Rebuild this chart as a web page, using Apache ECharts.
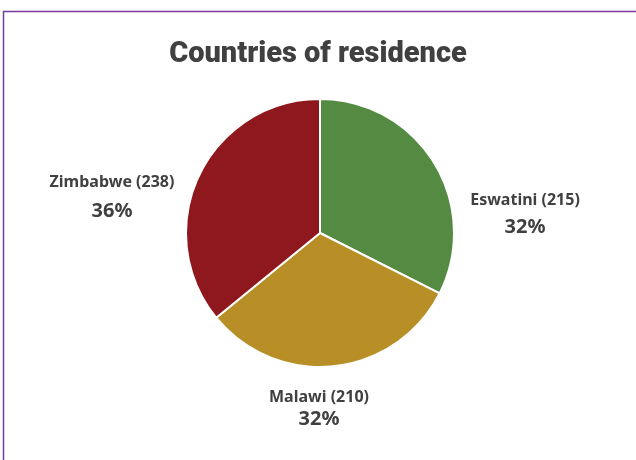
<!DOCTYPE html>
<html>
<head>
<meta charset="utf-8">
<style>
  html, body { margin: 0; padding: 0; background: #ffffff; }
  #chart { width: 636px; height: 460px; }
</style>
<script src="https://cdn.jsdelivr.net/npm/echarts@6/dist/echarts.min.js"></script>
</head>
<body>
<div id="chart"></div>
<script>
// Respondents by country of residence
const countries = ['Eswatini', 'Malawi', 'Zimbabwe'];
const counts = [215, 210, 238];
const sliceColors = ['#548A41', '#B88F27', '#8E181D'];

// label anchor points (pixels) and line spacing per slice
const labelAnchors = [[525, 214], [319, 408], [112, 197]];
const labelLineHeights = [27, 22, 29];

const chart = echarts.init(document.getElementById('chart'), null, { renderer: 'canvas' });

const data = countries.map((name, i) => ({
  name: name,
  value: counts[i],
  itemStyle: { color: sliceColors[i] },
  label: {
    rich: {
      n: { fontFamily: 'Noto Sans', fontWeight: 'bold', fontSize: 16, color: '#404040', lineHeight: labelLineHeights[i], align: 'center' },
      p: { fontFamily: 'Noto Sans', fontWeight: 'bold', fontSize: 20, color: '#404040', lineHeight: labelLineHeights[i], align: 'center' }
    }
  }
}));

chart.setOption({
  animation: false,
  title: {
    text: 'Countries of residence',
    left: 'center',
    top: 35,
    textStyle: { fontFamily: 'Roboto', fontWeight: 900, fontSize: 29, color: '#404040' }
  },
  graphic: [{
    type: 'rect',
    shape: { x: 3.5, y: 11.5, width: 700, height: 500 },
    style: { fill: 'none', stroke: '#7A3A9A', lineWidth: 1.5 },
    silent: true
  }],
  series: [{
    type: 'pie',
    center: [320, 233],
    radius: 134,
    startAngle: 90,
    clockwise: true,
    data: data,
    itemStyle: { borderColor: '#ffffff', borderWidth: 2 },
    label: {
      show: true,
      position: 'outside',
      formatter: p => '{n|' + p.name + ' (' + p.value + ')}\n{p|' + p.percent + '%}'
    },
    percentPrecision: 0,
    labelLine: { show: false },
    labelLayout: params => {
      const a = labelAnchors[params.dataIndex];
      return { x: a[0], y: a[1], align: 'center', verticalAlign: 'middle' };
    }
  }]
});
</script>
</body>
</html>
